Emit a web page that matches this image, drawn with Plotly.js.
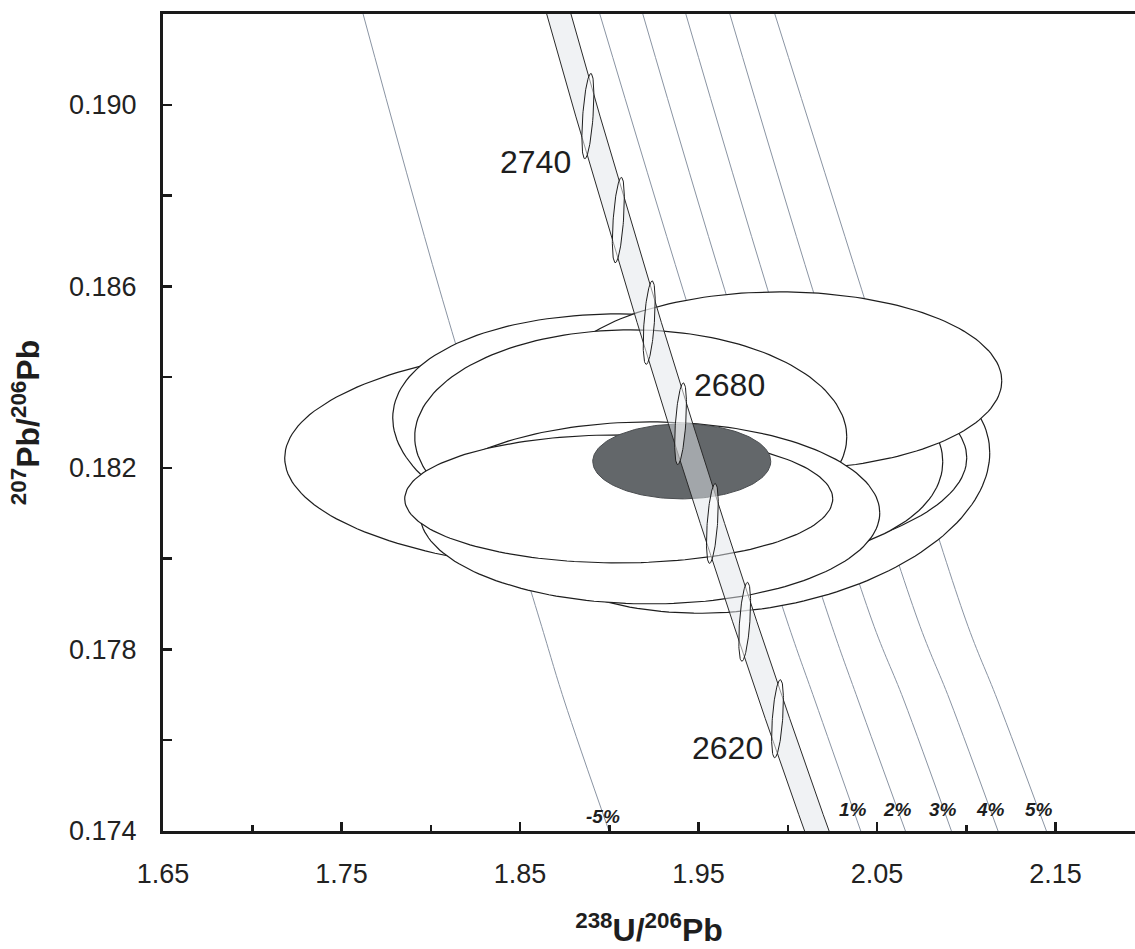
<!DOCTYPE html>
<html>
<head>
<meta charset="utf-8">
<script src="https://cdn.plot.ly/plotly-3.0.1.min.js"></script>
<style>
  html, body { margin: 0; padding: 0; background: #fff; }
  #chart { width: 1135px; height: 949px; }
</style>
</head>
<body>
<div id="chart"></div>
<script>
// ---- Tera-Wasserburg concordia (238U/206Pb vs 207Pb/206Pb), age in Ma ----
const concordiaAges = [2780, 2760, 2740, 2720, 2700, 2680, 2660, 2640, 2620, 2600, 2580];
const concordiaX = [1.85467, 1.87122, 1.88801, 1.90507, 1.92236, 1.93993, 1.95775, 1.97586, 1.99424, 2.01291, 2.03187];
const concordiaY = [0.194430, 0.192074, 0.189750, 0.187460, 0.185200, 0.182973, 0.180776, 0.178609, 0.176474, 0.174366, 0.172288];

// decay-constant uncertainty envelope around the concordia
const bandLeftX  = [1.8479, 1.8644, 1.8812, 1.8983, 1.9156, 1.9331, 1.9510, 1.9691, 1.9874, 2.0061, 2.0250];
const bandRightX = [1.8615, 1.8780, 1.8948, 1.9119, 1.9292, 1.9468, 1.9646, 1.9827, 2.0011, 2.0198, 2.0388];

// age markers on the concordia
const markerAges = [2740, 2720, 2700, 2680, 2660, 2640, 2620];
const markerX    = [1.88801, 1.90507, 1.92236, 1.93993, 1.95775, 1.97586, 1.99424];
const markerY    = [0.189750, 0.187460, 0.185200, 0.182973, 0.180776, 0.178609, 0.176474];
const markerErrY = [0.00094, 0.00094, 0.00092, 0.00090, 0.00088, 0.00087, 0.00086];
const markerErrX = [0.0029, 0.0029, 0.0029, 0.0029, 0.0029, 0.0029, 0.0029];
const markerLean = [0.0017, 0.0017, 0.0017, 0.0016, 0.0016, 0.0016, 0.0016];
const labelledAges = ['2740', '2680', '2620'];
const labelAgeX = [1.8588, 1.9675, 1.9664];
const labelAgeY = [0.188744, 0.183829, 0.175829];

// discordance reference lines (percent)
const discLabels = ['-5%', '1%', '2%', '3%', '4%', '5%'];
const discY = [0.192006, 0.185923, 0.178650, 0.176887, 0.174000];
const discX = [
  [1.76204, 1.80501, 1.86103, 1.87465, 1.89986],
  [1.89465, 1.94132, 1.99941, 2.01510, 2.04087],
  [1.91874, 1.96468, 2.02353, 2.03936, 2.06591],
  [1.94283, 1.98877, 2.04703, 2.06496, 2.09168],
  [1.96748, 2.01398, 2.07280, 2.09073, 2.11778],
  [1.99269, 2.04143, 2.09969, 2.11745, 2.14490]
];
const discLabelX = [1.8963, 2.0363, 2.0615, 2.0867, 2.1136, 2.1405];
const discLabelY = [0.174309, 0.174463, 0.174463, 0.174463, 0.174463, 0.174463];

// zircon spot analyses (2-sigma error ellipses), in drawing order
const spotX    = [1.97588, 1.90922, 1.93275, 1.99549, 1.91202, 1.92266, 1.90529];
const spotErrX = [0.13725, 0.19104, 0.15406, 0.12437, 0.12101, 0.12885, 0.11989];
const spotY    = [0.181780, 0.182220, 0.182617, 0.183917, 0.182683, 0.181008, 0.181317];
const spotErrY = [0.002931, 0.002534, 0.002733, 0.001961, 0.002358, 0.002006, 0.001410];
const spotTilt = [0.000551, 0, -0.000485, 0, 0, 0, 0];

// concordia age ellipse
const meanX = 1.94059, meanErrX = 0.04986;
const meanY = 0.182143, meanErrY = 0.000826;

// ---- helpers ----
function ellipse(cx, cy, ax, ay, tilt, n) {
  const xs = [], ys = [];
  for (let i = 0; i <= n; i++) {
    const t = 2 * Math.PI * i / n;
    xs.push(cx + ax * Math.cos(t));
    ys.push(cy + ay * Math.sin(t) + tilt * Math.cos(t));
  }
  return { xs, ys };
}
function leaningEllipse(cx, cy, w, lean, h, n) {
  const xs = [], ys = [];
  for (let i = 0; i <= n; i++) {
    const t = 2 * Math.PI * i / n;
    xs.push(cx + w * Math.cos(t) + lean * Math.sin(t));
    ys.push(cy + h * Math.sin(t));
  }
  return { xs, ys };
}

const traces = [];

// discordance lines
discX.forEach(xs => {
  traces.push({
    type: 'scatter', mode: 'lines', x: xs, y: discY,
    line: { color: '#8a94a3', width: 1, shape: 'spline', smoothing: 1 }, hoverinfo: 'skip'
  });
});

// spot ellipses
spotX.forEach((cx, i) => {
  const e = ellipse(cx, spotY[i], spotErrX[i], spotErrY[i], spotTilt[i], 180);
  traces.push({
    type: 'scatter', mode: 'lines', x: e.xs, y: e.ys, fill: 'toself',
    fillcolor: '#ffffff', line: { color: '#1e1e1e', width: 1.2 }, hoverinfo: 'skip'
  });
});

// concordia age ellipse
{
  const e = ellipse(meanX, meanY, meanErrX, meanErrY, 0, 180);
  traces.push({
    type: 'scatter', mode: 'lines', x: e.xs, y: e.ys, fill: 'toself',
    fillcolor: '#63676a', line: { color: '#4a4d50', width: 1 }, hoverinfo: 'skip'
  });
}

// concordia band
traces.push({
  type: 'scatter', mode: 'lines',
  x: bandLeftX.concat(bandRightX.slice().reverse(), [bandLeftX[0]]),
  y: concordiaY.concat(concordiaY.slice().reverse(), [concordiaY[0]]),
  fill: 'toself', fillcolor: 'rgba(226,229,233,0.5)',
  line: { color: '#2a2a2a', width: 1 }, hoverinfo: 'skip'
});

// age markers
markerX.forEach((cx, i) => {
  const e = leaningEllipse(cx, markerY[i], markerErrX[i], markerLean[i], markerErrY[i], 120);
  traces.push({
    type: 'scatter', mode: 'lines', x: e.xs, y: e.ys, fill: 'toself',
    fillcolor: 'rgba(255,255,255,0.5)', line: { color: '#1e1e1e', width: 1 }, hoverinfo: 'skip'
  });
});

const annotations = [];
labelledAges.forEach((txt, i) => {
  annotations.push({
    x: labelAgeX[i], y: labelAgeY[i], xref: 'x', yref: 'y', text: txt, showarrow: false,
    font: { family: 'Liberation Sans, Arial, sans-serif', size: 32, color: '#1e1e1e' },
    xanchor: 'center', yanchor: 'middle'
  });
});
discLabels.forEach((txt, i) => {
  annotations.push({
    x: discLabelX[i], y: discLabelY[i], xref: 'x', yref: 'y', text: '<b><i>' + txt + '</i></b>',
    showarrow: false,
    font: { family: 'Liberation Sans, Arial, sans-serif', size: 19, color: '#1e1e1e' },
    xanchor: 'center', yanchor: 'middle'
  });
});

const axisCommon = {
  ticks: 'inside', ticklen: 9, tickwidth: 2.5, tickcolor: '#1a1a1a',
  showline: true, linewidth: 3, linecolor: '#1a1a1a',
  showgrid: false, zeroline: false, fixedrange: true,
  tickfont: { family: 'Liberation Sans, Arial, sans-serif', size: 27, color: '#222' }
};

const layout = {
  width: 1135, height: 949,
  margin: { l: 163, r: 0, t: 14, b: 118, pad: 0 },
  paper_bgcolor: '#ffffff', plot_bgcolor: '#ffffff',
  showlegend: false,
  font: { family: 'Liberation Sans, Arial, sans-serif', color: '#1e1e1e' },
  xaxis: Object.assign({}, axisCommon, {
    range: [1.65, 2.1945], tick0: 1.65, dtick: 0.1, tickformat: '.2f',
    mirror: true, ticklabelstandoff: 17,
    minor: { tick0: 1.65, dtick: 0.05, ticks: 'inside', ticklen: 6, tickwidth: 2.5, tickcolor: '#1a1a1a', showgrid: false },
    title: { text: '<b><sup>238</sup>U/<sup>206</sup>Pb</b>', font: { size: 32, color: '#1e1e1e' }, standoff: 31 }
  }),
  yaxis: Object.assign({}, axisCommon, {
    range: [0.174, 0.192], tick0: 0.174, dtick: 0.004, tickformat: '.3f',
    ticklabelstandoff: 18,
    minor: { tick0: 0.174, dtick: 0.002, ticks: 'inside', ticklen: 9, tickwidth: 2.5, tickcolor: '#1a1a1a', showgrid: false },
    title: { text: '<b><sup>207</sup>Pb/<sup>206</sup>Pb</b>', font: { size: 32, color: '#1e1e1e' }, standoff: 20 }
  }),
  annotations: annotations
};

Plotly.newPlot('chart', traces, layout, { staticPlot: true, displayModeBar: false });
</script>
</body>
</html>
